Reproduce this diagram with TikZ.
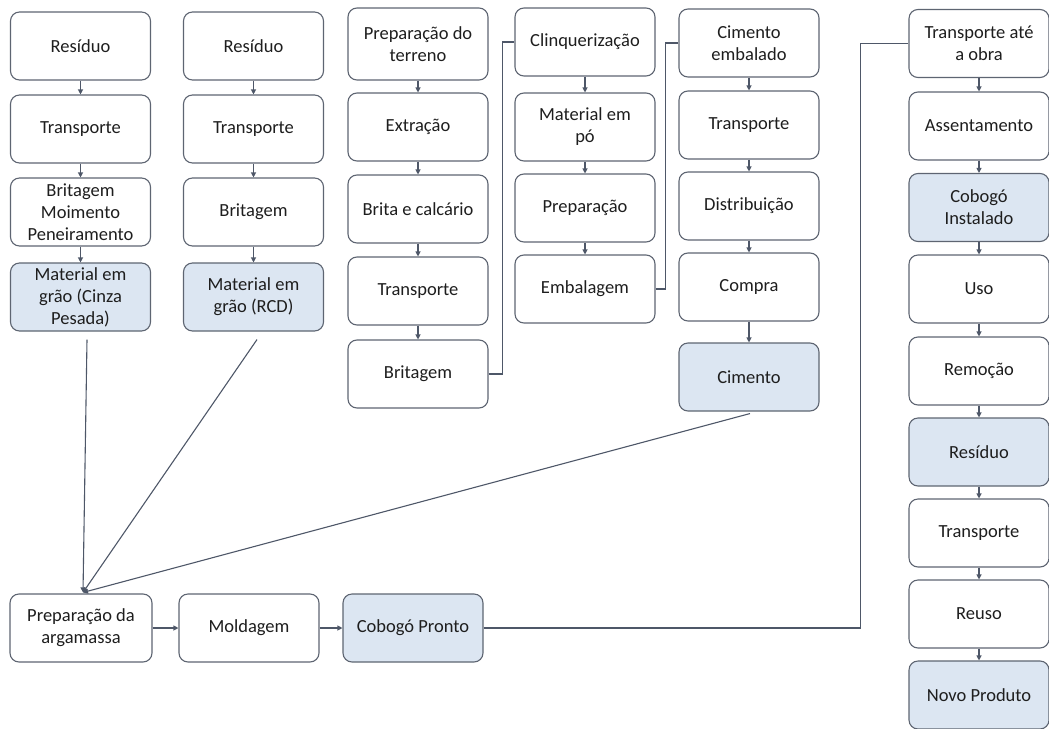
\documentclass[tikz,border=0pt]{standalone}
\usepackage{fontspec}
\setmainfont{Carlito}
\usetikzlibrary{arrows.meta,calc}
\definecolor{boxline}{HTML}{5E6572}
\definecolor{boxfill}{HTML}{DCE6F2}
\definecolor{linkc}{HTML}{4E5768}
\definecolor{txt}{HTML}{1E1E1E}
\begin{document}
\begin{tikzpicture}[x=1pt,y=-1pt,
  stepbox/.style={draw=boxline,line width=1.1pt,fill=white,rounded corners=9pt,
    minimum width=140pt,minimum height=68pt,inner sep=2pt,align=center,
    text=txt,font=\fontsize{18.5}{22}\selectfont},
  keybox/.style={stepbox,fill=boxfill},
  flow/.style={draw=linkc,line width=1.1pt,-{Triangle[length=5pt,width=5pt]}},
  link/.style={draw=linkc,line width=1.1pt}]
\useasboundingbox (0,0) rectangle (1049,728);

% waste stream 1: heavy ash
\node[stepbox] (a1) at (80.5,46) {Resíduo};
\node[stepbox] (a2) at (80.5,129) {Transporte};
\node[stepbox] (a3) at (80.5,212) {Britagem\\Moimento\\Peneiramento};
\node[keybox]  (a4) at (80.5,297) {Material em\\grão (Cinza\\Pesada)};

% waste stream 2: construction debris
\node[stepbox] (b1) at (253.5,46) {Resíduo};
\node[stepbox] (b2) at (253.5,129) {Transporte};
\node[stepbox] (b3) at (253.5,212) {Britagem};
\node[keybox]  (b4) at (253.5,297) {Material em\\grão (RCD)};

% raw material extraction
\node[stepbox,minimum height=72pt] (c1) at (418,44) {Preparação do\\terreno};
\node[stepbox] (c2) at (418,127) {Extração};
\node[stepbox] (c3) at (418,209) {Brita e calcário};
\node[stepbox] (c4) at (418,291) {Transporte};
\node[stepbox] (c5) at (418,374) {Britagem};

% cement production
\node[stepbox] (d1) at (585,42) {Clinquerização};
\node[stepbox] (d2) at (585,127) {Material em\\pó};
\node[stepbox] (d3) at (585,208) {Preparação};
\node[stepbox] (d4) at (585,289) {Embalagem};

% cement distribution
\node[stepbox] (e1) at (749,43) {Cimento\\embalado};
\node[stepbox] (e2) at (749,125) {Transporte};
\node[stepbox] (e3) at (749,206) {Distribuição};
\node[stepbox] (e4) at (749,287) {Compra};
\node[keybox]  (e5) at (749,377) {Cimento};

% use phase and end of life
\node[stepbox] (f1) at (979,43.5) {Transporte até\\a obra};
\node[stepbox] (f2) at (979,126) {Assentamento};
\node[keybox]  (f3) at (979,207.5) {Cobogó\\Instalado};
\node[stepbox] (f4) at (979,289) {Uso};
\node[stepbox] (f5) at (979,371) {Remoção};
\node[keybox]  (f6) at (979,452) {Resíduo};
\node[stepbox] (f7) at (979,533) {Transporte};
\node[stepbox] (f8) at (979,614) {Reuso};
\node[keybox]  (f9) at (979,695) {Novo Produto};

% block manufacturing
\node[stepbox,minimum width=142pt] (g1) at (81,628) {Preparação da\\argamassa};
\node[stepbox] (g2) at (249,628) {Moldagem};
\node[keybox]  (g3) at (413,628) {Cobogó Pronto};

% vertical flows
\foreach \u/\v in {a1/a2,a2/a3,a3/a4,b1/b2,b2/b3,b3/b4,
                   c1/c2,c2/c3,c3/c4,c4/c5,d1/d2,d2/d3,d3/d4,
                   e1/e2,e2/e3,e3/e4,e4/e5,
                   f1/f2,f2/f3,f3/f4,f4/f5,f5/f6,f6/f7,f7/f8,f8/f9}
  \draw[flow] (\u.south) -- (\v.north);

% elbow links between columns
\draw[link] (c5.east) -| ([xshift=-12pt]d1.west) -- (d1.west);
\draw[link] (d4.east) -| ([xshift=-13pt]e1.west) -- (e1.west);
\draw[link] (g3.east) -| ([xshift=-48pt]f1.west) -- (f1.west);

% inputs to the mortar
\coordinate (mix) at ($(g1.north)+(2,-1)$);
\draw[flow] ($(a4.south)+(6.5,8)$) -- (mix);
\draw[flow] ($(b4.south)+(3.5,8)$) -- (mix);
\draw[flow] ($(e5.south)+(1,2)$) -- (mix);

% production line
\draw[flow] (g1.east) -- (g2.west);
\draw[flow] (g2.east) -- (g3.west);
\end{tikzpicture}
\end{document}
